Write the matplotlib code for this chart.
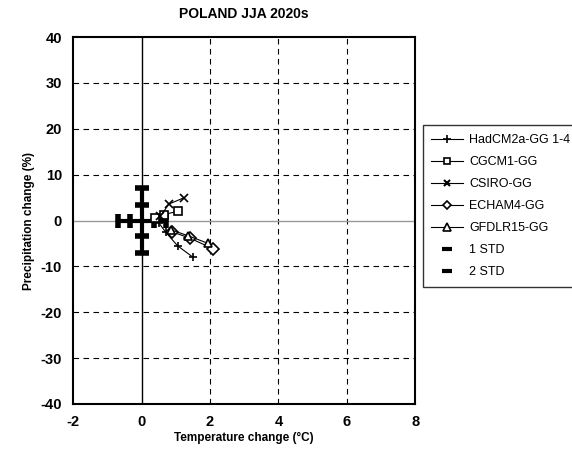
import matplotlib
matplotlib.use("Agg")
import matplotlib.pyplot as plt
from matplotlib.lines import Line2D

plt.rcParams['font.family'] = ['Liberation Sans', 'DejaVu Sans']
plt.rcParams['axes.unicode_minus'] = False

# model scenarios: temperature change (C) and precipitation change (%)
had_t = [0.5, 0.7, 1.05, 1.5]
had_p = [-0.5, -2.5, -5.5, -8.0]
cgcm_t = [0.4, 0.65, 1.05]
cgcm_p = [0.5, 1.3, 2.0]
csiro_t = [0.55, 0.8, 1.25]
csiro_p = [1.0, 3.6, 5.0]
echam_t = [0.9, 1.4, 2.1]
echam_p = [-2.5, -3.8, -6.2]
gfdl_t = [0.85, 1.35, 1.95]
gfdl_p = [-2.0, -3.3, -5.0]

# natural variability (standard deviations)
std1_t, std1_p = 0.35, 3.4
std2_t, std2_p = 0.7, 7.0

fig = plt.figure(figsize=(5.72, 4.58), dpi=100)
ax = fig.add_axes([0.128, 0.118, 0.598, 0.801])

ax.set_xlim(-2, 8)
ax.set_ylim(-40, 40)
ax.set_xticks([-2, 0, 2, 4, 6, 8])
ax.set_yticks(range(-40, 41, 10))

for y in [-30, -20, -10, 10, 20, 30]:
    ax.axhline(y, color='black', lw=0.8, ls=(0, (5, 4)), zorder=1)
for x in [2, 4, 6]:
    ax.axvline(x, color='black', lw=0.8, ls=(0, (5, 4)), zorder=1)
ax.axvline(0, color='black', lw=1.0, zorder=1)
ax.axhline(0, color='#999999', lw=1.0, zorder=1)

# std bars
ax.plot([0, 0], [-std2_p, std2_p], color='black', lw=3, zorder=3)
ax.plot([-std2_t, std2_t], [0, 0], color='black', lw=3, zorder=3)
ax.plot([0, 0], [-std1_p, std1_p], ls='none', marker='_', ms=10, mew=4, color='black', zorder=3)
ax.plot([0, 0], [-std2_p, std2_p], ls='none', marker='_', ms=10, mew=4, color='black', zorder=3)
ax.plot([-std1_t, std1_t], [0, 0], ls='none', marker='|', ms=10, mew=4, color='black', zorder=3)
ax.plot([-std2_t, std2_t], [0, 0], ls='none', marker='|', ms=10, mew=4, color='black', zorder=3)

kw = dict(color='black', lw=0.8, ms=6, mfc='white', mew=1.2, zorder=4)
ax.plot(had_t, had_p, marker='+', **kw)
ax.plot(cgcm_t, cgcm_p, marker='s', **kw)
ax.plot(csiro_t, csiro_p, marker='x', **kw)
ax.plot(echam_t, echam_p, marker='D', **kw)
ax.plot(gfdl_t, gfdl_p, marker='^', **kw)

for s in ax.spines.values():
    s.set_linewidth(1.5)
ax.tick_params(length=0, labelsize=10.5, pad=8)
for lab in ax.get_xticklabels() + ax.get_yticklabels():
    lab.set_fontweight('bold')

ax.set_xlabel('Temperature change (°C)', fontsize=8.5, fontweight='bold', labelpad=2)
ax.set_ylabel('Precipitation change (%)', fontsize=8.5, fontweight='bold', labelpad=4)
ax.set_title('POLAND JJA 2020s', fontsize=10, fontweight='bold', pad=14)

handles = [
    Line2D([], [], color='black', lw=0.8, marker='+', ms=6, mew=1.2),
    Line2D([], [], color='black', lw=0.8, marker='s', ms=5, mfc='white', mew=1.2),
    Line2D([], [], color='black', lw=0.8, marker='x', ms=5, mew=1.5),
    Line2D([], [], color='black', lw=0.8, marker='D', ms=4, mfc='white', mew=1.2),
    Line2D([], [], color='black', lw=0.8, marker='^', ms=6, mfc='white', mew=1.2),
    Line2D([], [], ls='none', marker='_', ms=7, mew=3, color='black'),
    Line2D([], [], ls='none', marker='_', ms=7, mew=3, color='black'),
]
labels = ['HadCM2a-GG 1-4', 'CGCM1-GG', 'CSIRO-GG', 'ECHAM4-GG', 'GFDLR15-GG', '1 STD', '2 STD']
leg = fig.legend(handles, labels, loc='upper left', bbox_to_anchor=(0.728, 0.74),
                 fontsize=9, frameon=True, fancybox=False, edgecolor='black',
                 handlelength=2.5, labelspacing=0.8, borderpad=0.7, handletextpad=0.5)
leg.get_frame().set_linewidth(1.0)

fig.savefig('out.png', dpi=100)
